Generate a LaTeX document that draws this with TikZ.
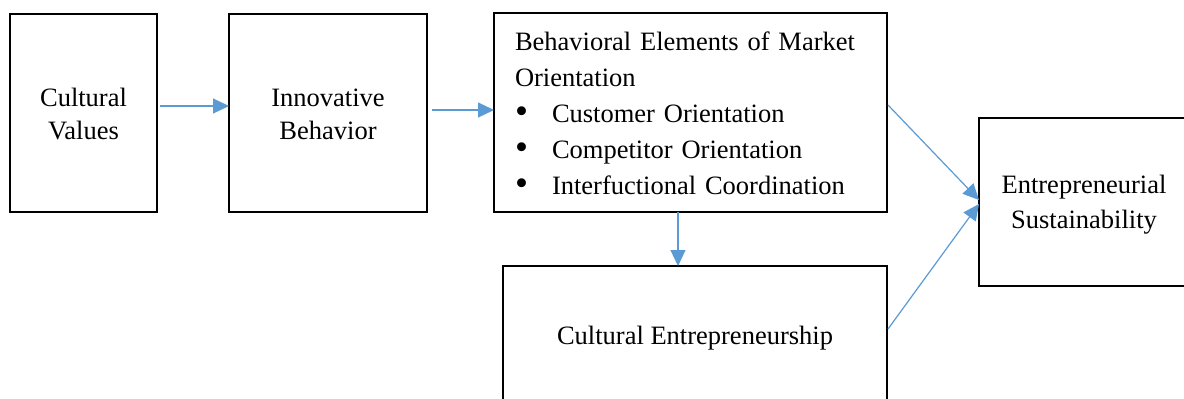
\documentclass[tikz,border=0pt]{standalone}
\usepackage{fontspec}
\usepackage{graphicx}
\setmainfont{Liberation Serif}
\usetikzlibrary{arrows.meta}
\definecolor{arrblue}{HTML}{5B9BD5}
\newcommand{\bigbul}{\makebox[37pt][l]{\raisebox{-0.5pt}{\scalebox{1.4}{\textbullet}}}}
\tikzset{
  boxnode/.style={draw=black, line width=2.3pt, outer sep=0pt, inner sep=0pt},
  txt/.style={inner sep=0pt, align=center, font=\fontsize{26.5}{33}\selectfont},
  arr/.style={draw=arrblue, line width=1.2pt, -{Triangle[length=16pt,width=15pt]}}
}
\begin{document}
\begin{tikzpicture}[x=1pt,y=-1pt]
\clip (0,0) rectangle (1184,399);
\fill[white] (0,0) rectangle (1184,399);
\node[boxnode, minimum width=147pt, minimum height=198pt] (box1) at (83.5,113) {};
\node[txt] (t1) at ([yshift=-1pt]box1.center) {Cultural\\Values};
\node[boxnode, minimum width=198pt, minimum height=198pt] (box2) at (328,113) {};
\node[txt] (t2) at ([yshift=-1pt]box2.center) {Innovative\\Behavior};
\node[boxnode, minimum width=393pt, minimum height=199pt] (box3) at (690.5,112.5) {};
\node[txt, text width=351pt, align=left, font=\fontsize{26.5}{36}\selectfont] (t3) at ([yshift=-1pt]box3.center)
  {Behavioral Elements of Market\\Orientation\\
   \bigbul Customer Orientation\\
   \bigbul Competitor Orientation\\
   \bigbul Interfuctional Coordination};
\node[boxnode, minimum width=384pt, minimum height=139pt] (box4) at (695,335.5) {};
\node[txt] (t4) at ([yshift=-3pt]box4.center) {Cultural Entrepreneurship};
\node[boxnode, minimum width=210pt, minimum height=168pt] (box5) at (1084,202) {};
\node[txt, font=\fontsize{26.5}{35}\selectfont] (t5) at ([yshift=-3pt]box5.center) {Entrepreneurial\\Sustainability};
\draw[arr] ([xshift=3pt,yshift=7pt]box1.east) -- ([yshift=7pt]box2.west);
\draw[arr] ([xshift=5pt,yshift=3pt]box2.east) -- ([yshift=2.5pt]box3.west);
\draw[arr] ([xshift=-12.5pt]box3.south) -- ([xshift=-17pt]box4.north);
\draw[arr] ([xshift=1pt,yshift=7.5pt]box3.east) -- ([yshift=2pt]box5.west);
\draw[arr] ([xshift=1pt,yshift=6.5pt]box4.east) -- ([yshift=-2pt]box5.west);
\end{tikzpicture}
\end{document}
